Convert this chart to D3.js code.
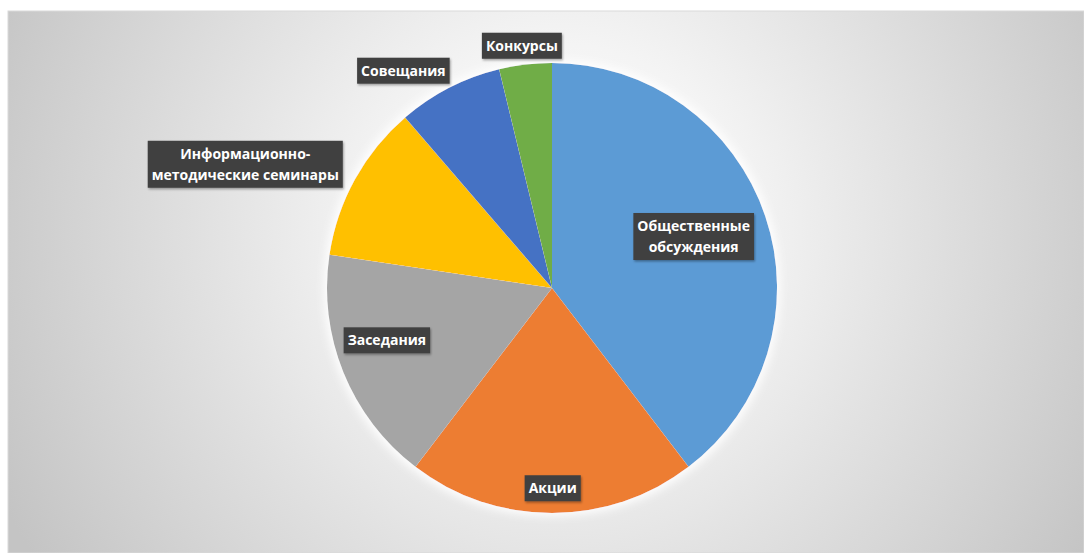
<!DOCTYPE html>
<html><head><meta charset="utf-8">
<script src="https://cdn.jsdelivr.net/npm/d3@7/dist/d3.min.js"></script>
<style>html,body{margin:0;padding:0;background:#fff;overflow:hidden}</style>
</head><body>
<svg id="c" width="1084" height="553"></svg>
<script>
const categories = ["Общественные обсуждения","Акции","Заседания","Информационно-методические семинары","Совещания","Конкурсы"];
const values = [21, 11, 9, 6, 4, 2];
const colors = ["#5B9BD5","#ED7D31","#A5A5A5","#FFC000","#4472C4","#70AD47"];
const labelLines = [["Общественные","обсуждения"],["Акции"],["Заседания"],["Информационно-","методические семинары"],["Совещания"],["Конкурсы"]];
// label placement: [angle offset from slice middle (deg), radius factor]
const labelPlace = [[-1.3,0.67],[-0.2,0.89],[4.5,0.77],[-6.9,1.47],[-7.2,1.17],[-0.3,1.085]];

const W=1084,H=553;
const svg=d3.select("#c");
const defs=svg.append("defs");
const rg=defs.append("radialGradient").attr("id","bg").attr("gradientUnits","userSpaceOnUse")
  .attr("cx",560).attr("cy",230).attr("r",620);
rg.append("stop").attr("offset","0").attr("stop-color","#ffffff");
rg.append("stop").attr("offset","0.3").attr("stop-color","#f4f4f4");
rg.append("stop").attr("offset","1").attr("stop-color","#c4c4c4");
const glow=defs.append("filter").attr("id","glow").attr("x","-10%").attr("y","-10%").attr("width","120%").attr("height","120%");
glow.append("feMorphology").attr("in","SourceAlpha").attr("operator","dilate").attr("radius",3).attr("result","d");
glow.append("feGaussianBlur").attr("in","d").attr("stdDeviation",4).attr("result","b");
glow.append("feFlood").attr("flood-color","#ffffff").attr("flood-opacity",0.9);
glow.append("feComposite").attr("in2","b").attr("operator","in").attr("result","g");
const m=glow.append("feMerge");m.append("feMergeNode").attr("in","g");m.append("feMergeNode").attr("in","SourceGraphic");
const sh=defs.append("filter").attr("id","sh").attr("x","-20%").attr("y","-30%").attr("width","140%").attr("height","160%");
sh.append("feDropShadow").attr("dx",1).attr("dy",1.5).attr("stdDeviation",1.2).attr("flood-color","#000").attr("flood-opacity",0.35);

svg.append("rect").attr("x",8).attr("y",11).attr("width",W-8).attr("height",H-11).attr("fill","url(#bg)").attr("stroke","#d9d9d9").attr("stroke-width",1);

const cx=552, cy=288, R=225;
const pie=d3.pie().value(d=>d).sort(null);
const arcs=pie(values);
const arc=d3.arc().innerRadius(0).outerRadius(R);
const g=svg.append("g").attr("transform",`translate(${cx},${cy})`);
g.append("g").attr("filter","url(#glow)").selectAll("path").data(arcs).join("path")
  .attr("d",arc).attr("fill",(d,i)=>colors[i]);

const lg=g.append("g").attr("font-family","'Open Sans', sans-serif").attr("font-weight","bold").attr("font-size","14px");
arcs.forEach((a,i)=>{
  const mid=(a.startAngle+a.endAngle)/2 + labelPlace[i][0]*Math.PI/180;
  const r=R*labelPlace[i][1];
  const x=Math.sin(mid)*r, y=-Math.cos(mid)*r;
  const lines=labelLines[i];
  const lh=21;
  const grp=lg.append("g");
  const t=grp.append("text").attr("fill","#fff").attr("text-anchor","middle");
  lines.forEach((s,k)=>{
    t.append("tspan").attr("x",x).attr("y",y+(k-(lines.length-1)/2)*lh+5).text(s);
  });
  const bb=t.node().getBBox();
  grp.insert("rect","text").attr("x",bb.x-4).attr("y",y-(lines.length*lh)/2-2.5).attr("width",bb.width+8).attr("height",lines.length*lh+5)
    .attr("fill","#404040").attr("filter","url(#sh)");
});
</script>
</body></html>
